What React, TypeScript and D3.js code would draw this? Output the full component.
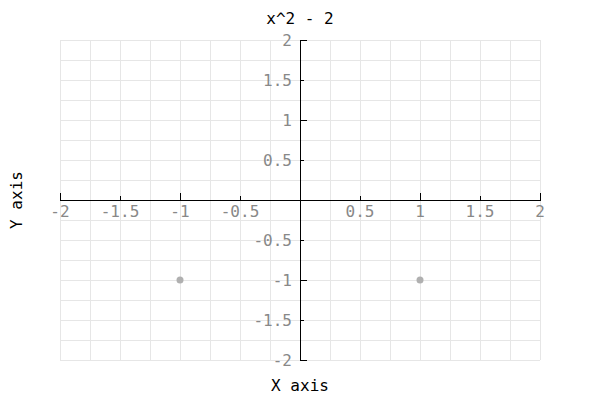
import React from 'react'
import * as d3 from 'd3'

const title = 'x^2 - 2'
const xLabel = 'X axis'
const yLabel = 'Y axis'

const domain: [number, number] = [-2, 2]
const gridValues = [-2, -1.75, -1.5, -1.25, -1, -0.75, -0.5, -0.25, 0, 0.25, 0.5, 0.75, 1, 1.25, 1.5, 1.75, 2]
const tickValues = [-2, -1.5, -1, -0.5, 0, 0.5, 1, 1.5, 2]
const tickLabels = ['-2', '-1.5', '-1', '-0.5', '', '0.5', '1', '1.5', '2']

const pointX = [-1, 1]
const pointY = [-1, -1]

const width = 600
const height = 400
const margin = { top: 40, right: 60, bottom: 40, left: 60 }

const font = '"DejaVu Sans Mono", "Liberation Mono", monospace'

const App: React.FC = () => {
  const x = d3.scaleLinear().domain(domain).range([margin.left, width - margin.right])
  const y = d3.scaleLinear().domain(domain).range([height - margin.bottom, margin.top])

  const x0 = Math.round(x(0))
  const y0 = Math.round(y(0))

  return (
    <svg width={width} height={height} style={{ display: 'block', position: 'absolute', left: 0, top: 0 }}>
      <rect width={width} height={height} fill="#fff" />

      {/* grid */}
      <g stroke="#e6e6e6" strokeWidth={1} shapeRendering="crispEdges">
        {gridValues.map((v, i) => (
          <line key={'gx' + i} x1={x(v) + 0.5} x2={x(v) + 0.5} y1={y(2)} y2={y(-2)} />
        ))}
        {gridValues.map((v, i) => (
          <line key={'gy' + i} x1={x(-2)} x2={x(2)} y1={y(v) + 0.5} y2={y(v) + 0.5} />
        ))}
      </g>

      {/* axes */}
      <g stroke="#000" strokeWidth={1} shapeRendering="crispEdges">
        <line x1={x(-2)} x2={x(2) + 1} y1={y0 + 0.5} y2={y0 + 0.5} />
        <line x1={x0 + 0.5} x2={x0 + 0.5} y1={y(2)} y2={y(-2)} />
        {tickValues.map((v, i) => {
          const len = Number.isInteger(v) ? 7 : 4
          return (
            <g key={'t' + i}>
              <line x1={x(v) + 0.5} x2={x(v) + 0.5} y1={y0} y2={y0 - len} />
              <line x1={x0} x2={x0 + len} y1={y(v) + 0.5} y2={y(v) + 0.5} />
            </g>
          )
        })}
      </g>

      {/* tick labels */}
      <g fill="#888" fontFamily={font} fontSize={16}>
        {tickValues.map((v, i) => (
          <text key={'xl' + i} x={x(v)} y={y0 + 17} textAnchor="middle">
            {tickLabels[i]}
          </text>
        ))}
        {tickValues.map((v, i) => (
          <text key={'yl' + i} x={x0 - 8} y={y(v)} dy="0.35em" textAnchor="end">
            {tickLabels[i]}
          </text>
        ))}
      </g>

      {/* points */}
      {pointX.map((px, i) => (
        <circle key={'p' + i} cx={x(px)} cy={y(pointY[i])} r={3.5} fill="#b0b0b0" />
      ))}

      {/* titles */}
      <g fill="#000" fontFamily={font} fontSize={16} textAnchor="middle">
        <text x={width / 2} y={24}>{title}</text>
        <text x={width / 2} y={391}>{xLabel}</text>
        <text transform={`translate(22,${height / 2}) rotate(-90)`}>{yLabel}</text>
      </g>
    </svg>
  )
}

export default App
